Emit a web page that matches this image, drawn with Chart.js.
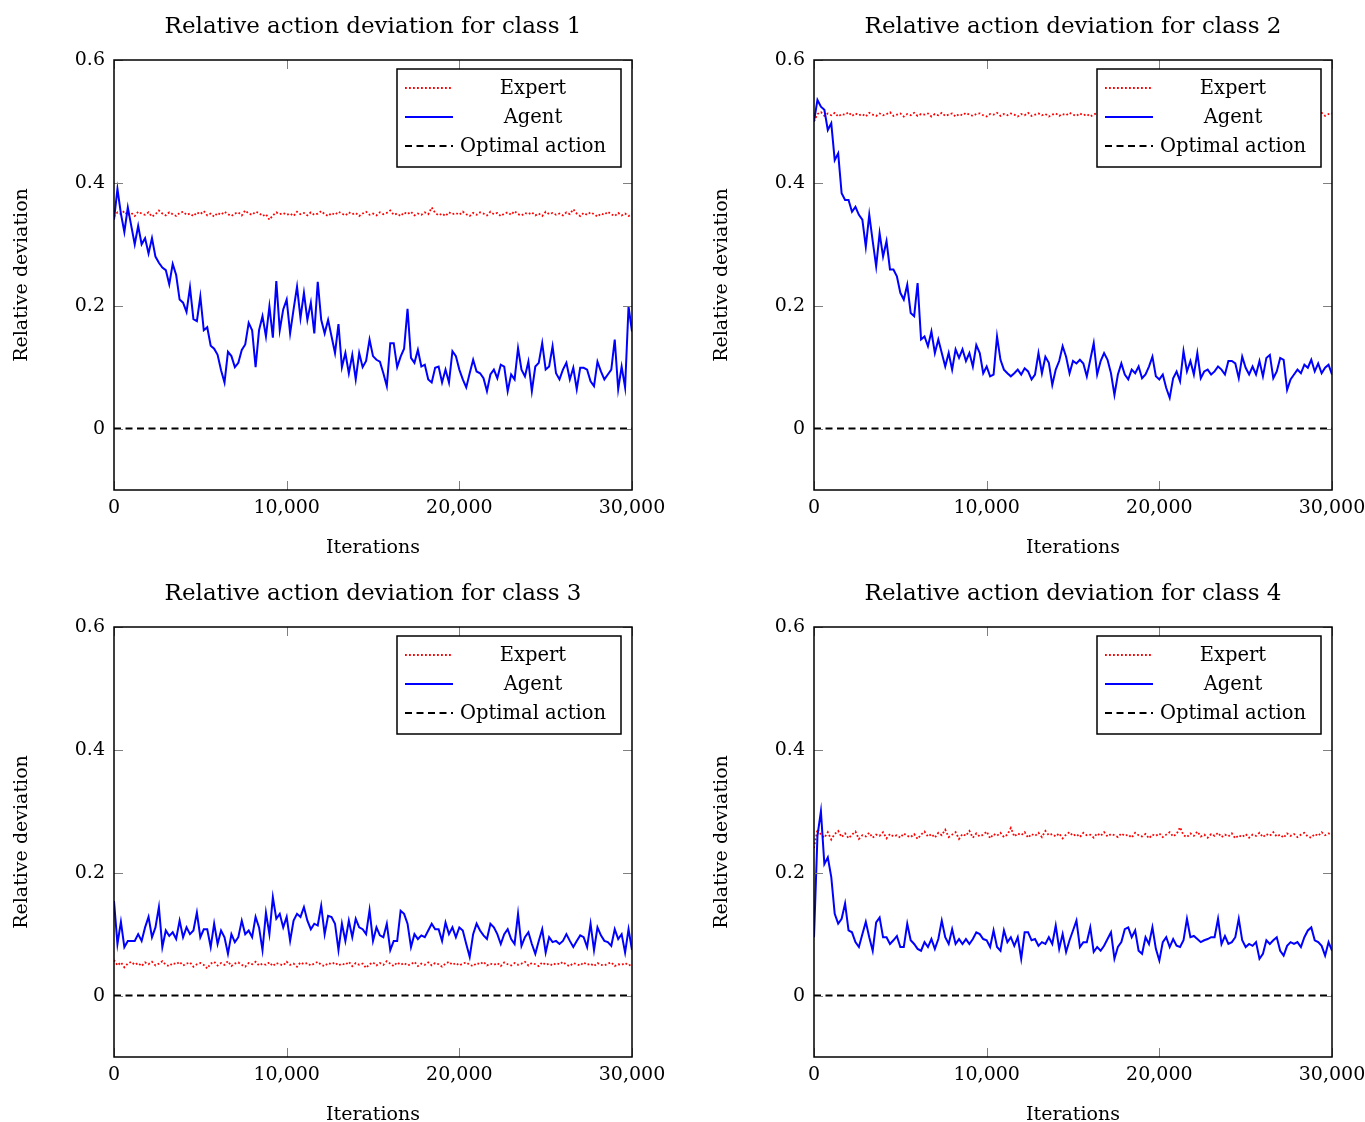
<!DOCTYPE html>
<html>
<head>
<meta charset="utf-8">
<script src="https://cdn.jsdelivr.net/npm/chart.js@4.4.0/dist/chart.umd.min.js"></script>
<style>
    html, body { margin: 0; padding: 0; background: #fff; overflow: hidden; }
    .panel { position: absolute; width: 665px; height: 560px; }
</style>
</head>
<body>
<div class="panel" style="left:0;top:0"><canvas id="c1" width="665" height="560"></canvas></div>
<div class="panel" style="left:700px;top:0"><canvas id="c2" width="665" height="560"></canvas></div>
<div class="panel" style="left:0;top:567px"><canvas id="c3" width="665" height="560"></canvas></div>
<div class="panel" style="left:700px;top:567px"><canvas id="c4" width="665" height="560"></canvas></div>
<script>
// iterations at which the curves are sampled
const iterations = [
    0, 200, 400, 600, 800, 1000, 1200, 1400, 1600, 1800,
    2000, 2200, 2400, 2600, 2800, 3000, 3200, 3400, 3600, 3800,
    4000, 4200, 4400, 4600, 4800, 5000, 5200, 5400, 5600, 5800,
    6000, 6200, 6400, 6600, 6800, 7000, 7200, 7400, 7600, 7800,
    8000, 8200, 8400, 8600, 8800, 9000, 9200, 9400, 9600, 9800,
    10000, 10200, 10400, 10600, 10800, 11000, 11200, 11400, 11600, 11800,
    12000, 12200, 12400, 12600, 12800, 13000, 13200, 13400, 13600, 13800,
    14000, 14200, 14400, 14600, 14800, 15000, 15200, 15400, 15600, 15800,
    16000, 16200, 16400, 16600, 16800, 17000, 17200, 17400, 17600, 17800,
    18000, 18200, 18400, 18600, 18800, 19000, 19200, 19400, 19600, 19800,
    20000, 20200, 20400, 20600, 20800, 21000, 21200, 21400, 21600, 21800,
    22000, 22200, 22400, 22600, 22800, 23000, 23200, 23400, 23600, 23800,
    24000, 24200, 24400, 24600, 24800, 25000, 25200, 25400, 25600, 25800,
    26000, 26200, 26400, 26600, 26800, 27000, 27200, 27400, 27600, 27800,
    28000, 28200, 28400, 28600, 28800, 29000, 29200, 29400, 29600, 29800,
    30000
];

const xTicks = [0, 10000, 20000, 30000];
const xTickLabels = ["0", "10,000", "20,000", "30,000"];
const yTicks = [0, 0.2, 0.4, 0.6];
const yTickLabels = ["0", "0.2", "0.4", "0.6"];

const titles = [
    "Relative action deviation for class 1",
    "Relative action deviation for class 2",
    "Relative action deviation for class 3",
    "Relative action deviation for class 4"
];
const seriesNames = ["Expert", "Agent", "Optimal action"];

const optimalIter = [0, 30000];
const optimalValue = [0, 0];

// class 1
const expert1 = [
    0.345, 0.352, 0.349, 0.354, 0.347, 0.351, 0.346, 0.353, 0.350, 0.348,
    0.352, 0.345, 0.349, 0.355, 0.350, 0.347, 0.352, 0.349, 0.346, 0.351,
    0.353, 0.348, 0.350, 0.346, 0.352, 0.349, 0.354, 0.347, 0.350, 0.345,
    0.351, 0.348, 0.353, 0.349, 0.346, 0.350, 0.352, 0.347, 0.355, 0.350,
    0.348, 0.353, 0.351, 0.346, 0.349, 0.340, 0.347, 0.352, 0.349, 0.351,
    0.348, 0.350, 0.346, 0.353, 0.349, 0.351, 0.347, 0.352, 0.348, 0.350,
    0.354, 0.349, 0.346, 0.351, 0.348, 0.353, 0.350, 0.347, 0.352, 0.349,
    0.351, 0.346, 0.350, 0.353, 0.348, 0.350, 0.347, 0.352, 0.349, 0.351,
    0.355, 0.348, 0.350, 0.346, 0.352, 0.349, 0.353, 0.347, 0.350, 0.348,
    0.352, 0.349, 0.360, 0.351, 0.347, 0.350, 0.346, 0.352, 0.349, 0.351,
    0.348, 0.353, 0.349, 0.346, 0.351, 0.348, 0.352, 0.350, 0.347, 0.353,
    0.349, 0.351, 0.346, 0.350, 0.352, 0.348, 0.354, 0.349, 0.347, 0.351,
    0.349, 0.352, 0.347, 0.350, 0.346, 0.353, 0.349, 0.351, 0.348, 0.350,
    0.347, 0.352, 0.349, 0.357, 0.350, 0.346, 0.351, 0.348, 0.352, 0.349,
    0.345, 0.350, 0.348, 0.353, 0.349, 0.346, 0.351, 0.347, 0.350, 0.346,
    0.349
];
const agent1 = [
    0.34, 0.39, 0.35, 0.32, 0.36, 0.33, 0.30, 0.33, 0.30, 0.31,
    0.285, 0.31, 0.28, 0.27, 0.262, 0.258, 0.235, 0.268, 0.25, 0.21,
    0.205, 0.19, 0.23, 0.178, 0.175, 0.215, 0.16, 0.165, 0.135, 0.13,
    0.12, 0.095, 0.075, 0.125, 0.118, 0.10, 0.107, 0.128, 0.137, 0.172,
    0.16, 0.10, 0.16, 0.183, 0.15, 0.199, 0.148, 0.24, 0.16, 0.194,
    0.21, 0.155, 0.194, 0.231, 0.18, 0.221, 0.177, 0.205, 0.155, 0.239,
    0.177, 0.155, 0.177, 0.15, 0.123, 0.17, 0.10, 0.123, 0.09, 0.12,
    0.08, 0.123, 0.10, 0.11, 0.145, 0.118, 0.112, 0.109, 0.09, 0.069,
    0.139, 0.139, 0.10, 0.117, 0.13, 0.195, 0.115, 0.107, 0.128, 0.101,
    0.104, 0.08, 0.075, 0.099, 0.101, 0.075, 0.096, 0.075, 0.126, 0.118,
    0.096, 0.08, 0.067, 0.09, 0.112, 0.093, 0.09, 0.082, 0.061, 0.088,
    0.096, 0.082, 0.104, 0.101, 0.061, 0.088, 0.08, 0.131, 0.096, 0.085,
    0.109, 0.061, 0.101, 0.107, 0.139, 0.096, 0.101, 0.134, 0.09, 0.08,
    0.096, 0.107, 0.08, 0.099, 0.064, 0.099, 0.099, 0.096, 0.077, 0.069,
    0.109, 0.093, 0.08, 0.088, 0.096, 0.145, 0.064, 0.101, 0.067, 0.199,
    0.158
];

// class 2
const expert2 = [
    0.500, 0.512, 0.515, 0.509, 0.513, 0.510, 0.514, 0.508, 0.512, 0.511,
    0.515, 0.509, 0.513, 0.510, 0.512, 0.508, 0.514, 0.511, 0.509, 0.513,
    0.510, 0.512, 0.515, 0.509, 0.511, 0.513, 0.508, 0.512, 0.510, 0.514,
    0.509, 0.512, 0.511, 0.513, 0.508, 0.512, 0.510, 0.514, 0.509, 0.511,
    0.513, 0.508, 0.512, 0.510, 0.514, 0.511, 0.509, 0.512, 0.513, 0.510,
    0.508, 0.512, 0.511, 0.514, 0.509, 0.512, 0.510, 0.513, 0.511, 0.508,
    0.512, 0.510, 0.514, 0.509, 0.511, 0.513, 0.510, 0.512, 0.508, 0.511,
    0.513, 0.509, 0.512, 0.510, 0.514, 0.511, 0.509, 0.513, 0.510, 0.512,
    0.508, 0.511, 0.514, 0.510, 0.512, 0.509, 0.513, 0.511, 0.508, 0.512,
    0.510, 0.513, 0.509, 0.512, 0.511, 0.514, 0.508, 0.512, 0.510, 0.513,
    0.511, 0.509, 0.512, 0.514, 0.510, 0.512, 0.508, 0.513, 0.511, 0.509,
    0.512, 0.510, 0.514, 0.511, 0.508, 0.512, 0.513, 0.510, 0.509, 0.512,
    0.511, 0.513, 0.509, 0.512, 0.510, 0.514, 0.511, 0.508, 0.512, 0.510,
    0.513, 0.511, 0.509, 0.512, 0.514, 0.510, 0.512, 0.509, 0.511, 0.513,
    0.510, 0.512, 0.508, 0.511, 0.513, 0.510, 0.512, 0.514, 0.509, 0.512,
    0.513
];
const agent2 = [
    0.50, 0.535, 0.524, 0.519, 0.486, 0.497, 0.437, 0.448, 0.383, 0.372,
    0.372, 0.353, 0.361, 0.348, 0.34, 0.296, 0.348, 0.305, 0.264, 0.318,
    0.28, 0.305, 0.259, 0.259, 0.248, 0.221, 0.21, 0.234, 0.188, 0.183,
    0.237, 0.145, 0.15, 0.134, 0.158, 0.123, 0.145, 0.123, 0.101, 0.123,
    0.096, 0.129, 0.115, 0.129, 0.11, 0.123, 0.101, 0.136, 0.123, 0.09,
    0.101, 0.085, 0.088, 0.15, 0.112, 0.096, 0.09, 0.085, 0.09, 0.096,
    0.088, 0.098, 0.093, 0.08, 0.088, 0.123, 0.09, 0.117, 0.107, 0.071,
    0.096, 0.11, 0.134, 0.117, 0.09, 0.11, 0.106, 0.112, 0.106, 0.085,
    0.112, 0.139, 0.088, 0.11, 0.123, 0.112, 0.09, 0.055, 0.088, 0.106,
    0.088, 0.08, 0.096, 0.09, 0.101, 0.082, 0.088, 0.101, 0.117, 0.085,
    0.08, 0.088, 0.066, 0.05, 0.082, 0.093, 0.077, 0.126, 0.093, 0.11,
    0.088, 0.123, 0.082, 0.093, 0.096, 0.088, 0.093, 0.101, 0.096, 0.088,
    0.11, 0.11, 0.106, 0.082, 0.117, 0.099, 0.088, 0.101, 0.088, 0.11,
    0.085, 0.115, 0.12, 0.082, 0.093, 0.115, 0.112, 0.063, 0.08, 0.088,
    0.096, 0.09, 0.104, 0.099, 0.112, 0.093, 0.106, 0.09, 0.099, 0.104,
    0.088
];

// class 3
const expert3 = [
    0.058, 0.049, 0.054, 0.046, 0.052, 0.055, 0.050, 0.053, 0.048, 0.054,
    0.051, 0.055, 0.049, 0.052, 0.056, 0.050, 0.048, 0.053, 0.051, 0.055,
    0.049, 0.052, 0.054, 0.047, 0.051, 0.053, 0.050, 0.044, 0.052, 0.055,
    0.049, 0.053, 0.050, 0.056, 0.048, 0.052, 0.054, 0.050, 0.047, 0.053,
    0.051, 0.055, 0.049, 0.052, 0.050, 0.054, 0.048, 0.053, 0.051, 0.049,
    0.055, 0.050, 0.052, 0.047, 0.054, 0.051, 0.053, 0.049, 0.052, 0.055,
    0.050, 0.048, 0.053, 0.051, 0.054, 0.049, 0.052, 0.050, 0.055, 0.048,
    0.053, 0.050, 0.052, 0.045, 0.051, 0.054, 0.049, 0.053, 0.050, 0.056,
    0.052, 0.048, 0.054, 0.050, 0.053, 0.049, 0.051, 0.055, 0.048, 0.052,
    0.050, 0.054, 0.049, 0.053, 0.051, 0.047, 0.052, 0.055, 0.050, 0.053,
    0.049, 0.052, 0.054, 0.050, 0.048, 0.053, 0.051, 0.055, 0.049, 0.052,
    0.050, 0.053, 0.048, 0.054, 0.051, 0.049, 0.053, 0.050, 0.052, 0.055,
    0.049, 0.053, 0.051, 0.048, 0.054, 0.050, 0.052, 0.049, 0.053, 0.051,
    0.055, 0.050, 0.048, 0.053, 0.051, 0.049, 0.054, 0.050, 0.052, 0.048,
    0.053, 0.050, 0.049, 0.052, 0.054, 0.048, 0.051, 0.050, 0.053, 0.049,
    0.051
];
const agent3 = [
    0.154, 0.084, 0.12, 0.079, 0.089, 0.089, 0.089, 0.10, 0.089, 0.111,
    0.128, 0.095, 0.111, 0.144, 0.079, 0.106, 0.097, 0.103, 0.092, 0.122,
    0.095, 0.111, 0.10, 0.106, 0.135, 0.095, 0.108, 0.108, 0.079, 0.117,
    0.084, 0.106, 0.095, 0.068, 0.10, 0.087, 0.095, 0.122, 0.10, 0.106,
    0.095, 0.128, 0.111, 0.074, 0.135, 0.10, 0.16, 0.125, 0.133, 0.111,
    0.128, 0.089, 0.122, 0.133, 0.128, 0.144, 0.122, 0.108, 0.117, 0.114,
    0.146, 0.10, 0.13, 0.128, 0.117, 0.074, 0.117, 0.089, 0.122, 0.095,
    0.125, 0.111, 0.108, 0.10, 0.139, 0.089, 0.111, 0.098, 0.095, 0.117,
    0.074, 0.089, 0.089, 0.138, 0.133, 0.117, 0.079, 0.10, 0.092, 0.098,
    0.095, 0.106, 0.117, 0.108, 0.108, 0.089, 0.119, 0.10, 0.111, 0.095,
    0.111, 0.106, 0.084, 0.063, 0.10, 0.117, 0.106, 0.098, 0.092, 0.117,
    0.111, 0.10, 0.084, 0.10, 0.108, 0.092, 0.084, 0.133, 0.081, 0.095,
    0.103, 0.084, 0.068, 0.089, 0.108, 0.07, 0.095, 0.087, 0.089, 0.084,
    0.089, 0.10, 0.089, 0.079, 0.089, 0.098, 0.095, 0.079, 0.117, 0.074,
    0.111, 0.098, 0.089, 0.087, 0.081, 0.108, 0.092, 0.10, 0.07, 0.108,
    0.074
];

// class 4
const expert4 = [
    0.240, 0.271, 0.262, 0.257, 0.266, 0.254, 0.263, 0.268, 0.258, 0.264,
    0.256, 0.262, 0.267, 0.255, 0.261, 0.259, 0.265, 0.257, 0.262, 0.260,
    0.266, 0.256, 0.263, 0.259, 0.261, 0.257, 0.264, 0.260, 0.258, 0.263,
    0.255, 0.262, 0.267, 0.259, 0.263, 0.257, 0.265, 0.261, 0.270, 0.258,
    0.262, 0.266, 0.255, 0.263, 0.260, 0.268, 0.257, 0.264, 0.259, 0.262,
    0.267, 0.256, 0.263, 0.260, 0.265, 0.258, 0.262, 0.273, 0.259, 0.264,
    0.261, 0.266, 0.257, 0.263, 0.260, 0.265, 0.258, 0.268, 0.261, 0.263,
    0.259, 0.264, 0.256, 0.262, 0.266, 0.260, 0.263, 0.258, 0.265, 0.261,
    0.262, 0.257, 0.264, 0.260, 0.266, 0.259, 0.263, 0.261, 0.258, 0.264,
    0.260, 0.262, 0.257, 0.265, 0.261, 0.259, 0.263, 0.256, 0.262, 0.260,
    0.264, 0.258, 0.262, 0.266, 0.259, 0.263, 0.274, 0.261, 0.258, 0.264,
    0.260, 0.267, 0.259, 0.262, 0.257, 0.263, 0.260, 0.265, 0.258, 0.262,
    0.259, 0.264, 0.256, 0.261, 0.258, 0.263, 0.257, 0.262, 0.260, 0.265,
    0.258, 0.263, 0.260, 0.266, 0.259, 0.262, 0.257, 0.264, 0.260, 0.263,
    0.258, 0.262, 0.265, 0.259, 0.257, 0.263, 0.260, 0.266, 0.261, 0.264,
    0.262
];
const agent4 = [
    0.095, 0.26, 0.30, 0.214, 0.225, 0.193, 0.133, 0.117, 0.125, 0.15,
    0.106, 0.103, 0.087, 0.079, 0.10, 0.12, 0.095, 0.073, 0.119, 0.127,
    0.095, 0.095, 0.084, 0.09, 0.097, 0.079, 0.079, 0.117, 0.09, 0.084,
    0.076, 0.073, 0.087, 0.079, 0.092, 0.076, 0.092, 0.122, 0.095, 0.084,
    0.108, 0.084, 0.092, 0.084, 0.092, 0.084, 0.092, 0.103, 0.10, 0.092,
    0.09, 0.079, 0.106, 0.079, 0.073, 0.106, 0.087, 0.095, 0.081, 0.095,
    0.06, 0.103, 0.103, 0.09, 0.092, 0.081, 0.087, 0.084, 0.095, 0.084,
    0.114, 0.076, 0.10, 0.071, 0.09, 0.106, 0.122, 0.079, 0.087, 0.087,
    0.111, 0.071, 0.079, 0.073, 0.081, 0.092, 0.103, 0.06, 0.079, 0.087,
    0.108, 0.111, 0.095, 0.106, 0.073, 0.068, 0.095, 0.084, 0.111, 0.076,
    0.057, 0.087, 0.095, 0.079, 0.092, 0.081, 0.079, 0.09, 0.125, 0.095,
    0.097, 0.092, 0.087, 0.09, 0.092, 0.095, 0.095, 0.125, 0.084, 0.097,
    0.084, 0.087, 0.095, 0.125, 0.09, 0.079, 0.084, 0.081, 0.087, 0.06,
    0.068, 0.09, 0.084, 0.09, 0.095, 0.073, 0.065, 0.081, 0.087, 0.084,
    0.087, 0.079, 0.095, 0.106, 0.111, 0.09, 0.087, 0.081, 0.065, 0.087,
    0.073
];

const FONT = "'DejaVu Serif', serif";

function pairs(xs, ys) {
    return ys.map((v, i) => ({ x: xs[i], y: v }));
}

// frame, inward tick marks, legend box and texts (pgfplots look)
const decorPlugin = {
    id: "decor",
    afterDatasetsDraw(chart) {
        const ctx = chart.ctx;
        const a = chart.chartArea;
        const xs = chart.scales.x, ys = chart.scales.y;
        ctx.save();

        ctx.strokeStyle = "#808080";
        ctx.lineWidth = 1;
        ctx.beginPath();
        xTicks.forEach(v => {
            const px = Math.round(xs.getPixelForValue(v)) + 0.5;
            ctx.moveTo(px, a.bottom); ctx.lineTo(px, a.bottom - 9);
            ctx.moveTo(px, a.top); ctx.lineTo(px, a.top + 9);
        });
        yTicks.forEach(v => {
            const py = Math.round(ys.getPixelForValue(v)) + 0.5;
            ctx.moveTo(a.left, py); ctx.lineTo(a.left + 9, py);
            ctx.moveTo(a.right, py); ctx.lineTo(a.right - 9, py);
        });
        ctx.stroke();

        // legend
        const bw = 224, bh = 98;
        const bx = a.right - 11 - bw, by = a.top + 9;
        ctx.fillStyle = "#fff";
        ctx.fillRect(bx, by, bw, bh);
        ctx.strokeStyle = "#000";
        ctx.lineWidth = 1.5;
        ctx.strokeRect(bx, by, bw, bh);
        ctx.font = "19.5px " + FONT;
        ctx.textAlign = "center";
        ctx.textBaseline = "middle";
        chart.data.datasets.forEach((ds, k) => {
            const ry = by + 19 + k * 29;
            ctx.beginPath();
            ctx.strokeStyle = ds.borderColor;
            ctx.lineWidth = ds.borderWidth;
            ctx.setLineDash(ds.borderDash || []);
            ctx.moveTo(bx + 8, ry);
            ctx.lineTo(bx + 56, ry);
            ctx.stroke();
            ctx.setLineDash([]);
            ctx.fillStyle = "#000";
            ctx.fillText(ds.label, bx + 136, ry + 1);
        });

        // frame
        ctx.strokeStyle = "#000";
        ctx.lineWidth = 1.5;
        ctx.strokeRect(a.left, a.top, a.right - a.left, a.bottom - a.top);
        ctx.restore();
    },
    afterDraw(chart, args, opts) {
        const ctx = chart.ctx;
        const a = chart.chartArea;
        const cx = (a.left + a.right) / 2, cy = (a.top + a.bottom) / 2;
        ctx.save();
        ctx.fillStyle = "#000";
        ctx.textAlign = "center";
        ctx.textBaseline = "middle";
        ctx.font = "23px " + FONT;
        ctx.fillText(opts.title, cx, a.top - 33);
        ctx.font = "19px " + FONT;
        ctx.fillText("Iterations", cx, a.bottom + 58);
        ctx.translate(a.left - 92, cy);
        ctx.rotate(-Math.PI / 2);
        ctx.fillText("Relative deviation", 0, 0);
        ctx.restore();
    }
};

function makeChart(id, title, expert, agent) {
    const ctx = document.getElementById(id).getContext("2d");
    return new Chart(ctx, {
        type: "line",
        data: {
            datasets: [
                {
                    label: seriesNames[0],
                    data: pairs(iterations, expert),
                    borderColor: "#ff0000",
                    borderWidth: 1.8,
                    borderDash: [1.8, 2.2],
                    order: 2
                },
                {
                    label: seriesNames[1],
                    data: pairs(iterations, agent),
                    borderColor: "#0000ff",
                    borderWidth: 2,
                    order: 1
                },
                {
                    label: seriesNames[2],
                    data: pairs(optimalIter, optimalValue),
                    borderColor: "#000000",
                    borderWidth: 1.9,
                    borderDash: [7, 4.5],
                    order: 3
                }
            ]
        },
        options: {
            responsive: false,
            animation: false,
            events: [],
            layout: { padding: { left: 0, top: 60, right: 33, bottom: 0 } },
            elements: {
                point: { radius: 0 },
                line: { tension: 0, borderJoinStyle: "miter" }
            },
            plugins: {
                legend: { display: false },
                title: { display: false },
                tooltip: { enabled: false },
                decor: { title: title }
            },
            scales: {
                x: {
                    type: "linear",
                    min: 0,
                    max: 30000,
                    afterFit: s => { s.height = 70; s.paddingLeft = 0; s.paddingRight = 0; },
                    afterBuildTicks: s => { s.ticks = xTicks.map(v => ({ value: v })); },
                    grid: { display: false, drawTicks: false },
                    border: { display: false },
                    ticks: {
                        padding: 7,
                        color: "#000",
                        maxRotation: 0,
                        autoSkip: false,
                        font: { family: FONT, size: 19 },
                        callback: v => xTickLabels[xTicks.indexOf(v)]
                    }
                },
                y: {
                    type: "linear",
                    min: -0.1,
                    max: 0.6,
                    afterFit: s => { s.width = 114; s.paddingTop = 0; s.paddingBottom = 0; },
                    afterBuildTicks: s => { s.ticks = yTicks.map(v => ({ value: v })); },
                    grid: { display: false, drawTicks: false },
                    border: { display: false },
                    ticks: {
                        padding: 9,
                        color: "#000",
                        autoSkip: false,
                        font: { family: FONT, size: 19 },
                        callback: v => yTickLabels[yTicks.indexOf(v)]
                    }
                }
            }
        },
        plugins: [decorPlugin]
    });
}

makeChart("c1", titles[0], expert1, agent1);
makeChart("c2", titles[1], expert2, agent2);
makeChart("c3", titles[2], expert3, agent3);
makeChart("c4", titles[3], expert4, agent4);
</script>
</body>
</html>
